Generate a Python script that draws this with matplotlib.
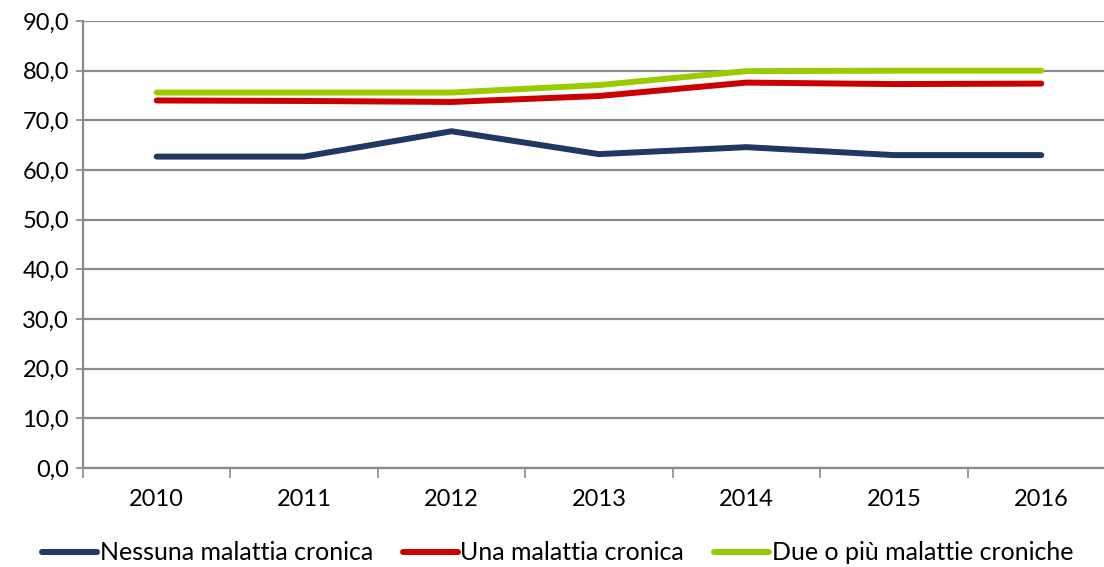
import numpy as np
import matplotlib.pyplot as plt
from matplotlib.ticker import FixedLocator, FuncFormatter

# data
anni = ["2010", "2011", "2012", "2013", "2014", "2015", "2016"]
nessuna = [62.7, 62.7, 67.8, 63.2, 64.6, 63.0, 63.0]
una = [74.0, 73.9, 73.7, 74.9, 77.6, 77.3, 77.4]
due_o_piu = [75.6, 75.6, 75.6, 77.1, 79.9, 80.0, 80.0]

serie = [
    ("Nessuna malattia cronica", nessuna, "#1f3864"),
    ("Una malattia cronica", una, "#cc0000"),
    ("Due o più malattie croniche", due_o_piu, "#99cc00"),
]

plt.rcParams['font.family'] = ['Lato', 'DejaVu Sans']
plt.rcParams['font.size'] = 17

fig = plt.figure(figsize=(11.04, 5.67), dpi=100)
# plot area runs slightly past the right edge, as in the original
ax = fig.add_axes([83 / 1104, 1 - 468 / 567, 1032 / 1104, (468 - 21) / 567])

x = np.arange(len(anni))
for nome, valori, colore in serie:
    ax.plot(x, valori, color=colore, lw=4.3, label=nome,
            solid_capstyle='round', solid_joinstyle='round', clip_on=False, zorder=3)

ax.set_xlim(-0.5, len(anni) - 0.5)
ax.set_ylim(0, 90)
ax.set_yticks(np.arange(0, 91, 10))
ax.yaxis.set_major_formatter(FuncFormatter(lambda v, p: "{:.1f}".format(v).replace(".", ",")))
ax.grid(axis='y', color='#8a8a8a', lw=1.6)
ax.set_axisbelow(True)

ax.xaxis.set_major_locator(FixedLocator(np.arange(-0.5, len(anni), 1)))
ax.xaxis.set_major_formatter(FuncFormatter(lambda v, p: ""))
ax.xaxis.set_minor_locator(FixedLocator(x))
ax.set_xticklabels(anni, minor=True)
ax.tick_params(axis='x', which='major', length=7, width=1.2, color='#8a8a8a', direction='out')
ax.tick_params(axis='x', which='minor', length=0, pad=15)
ax.tick_params(axis='y', length=5, width=1.2, color='#8a8a8a', pad=5)

for s in ['top', 'right']:
    ax.spines[s].set_visible(False)
for s in ['left', 'bottom']:
    ax.spines[s].set_color('#8a8a8a')
    ax.spines[s].set_linewidth(1.6)

fig.legend(loc='lower center', bbox_to_anchor=(0.505, -0.035), ncol=3, frameon=False,
           fontsize=18, handlelength=2.2, handletextpad=0.1, columnspacing=1.2)

fig.savefig("out.png", dpi=100)
